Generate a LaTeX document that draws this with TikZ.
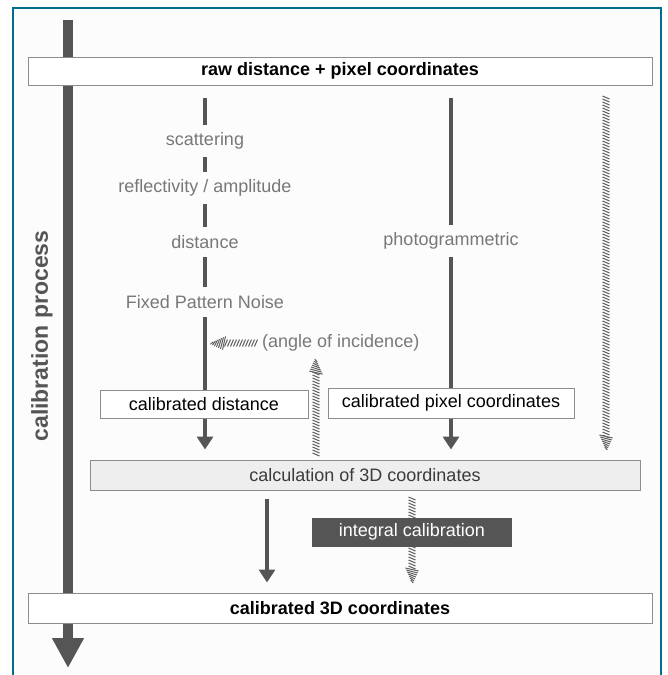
\documentclass[tikz,border=0pt]{standalone}
\usepackage{fontspec}
\setmainfont{Liberation Sans}
\usepackage{tikz}
\definecolor{frame}{RGB}{0,110,140}
\definecolor{paper}{RGB}{252,252,252}
\definecolor{darkline}{RGB}{85,85,85}
\definecolor{hatchgray}{RGB}{95,95,95}
\definecolor{labelgray}{RGB}{120,120,120}
\definecolor{calcgray}{RGB}{238,238,238}
\definecolor{boxline}{RGB}{140,140,140}
\usetikzlibrary{arrows.meta}
\usetikzlibrary{decorations.markings}
\pgfdeclarelayer{bglayer}
\pgfdeclarelayer{edgelayer}
\pgfdeclarelayer{nodelayer}
\pgfsetlayers{bglayer,edgelayer,nodelayer,main}
\tikzstyle{box}=[rectangle,fill=white,draw=boxline,line width=1pt,minimum height=28pt,inner sep=0pt,font=\fontsize{18}{20}\selectfont]
\tikzstyle{steplabel}=[fill=paper,text=labelgray,inner xsep=2pt,inner ysep=8pt,font=\fontsize{18}{20}\selectfont]
\tikzstyle{flow}=[darkline,line width=4pt,-{Triangle[length=13pt,width=16pt]}]
\tikzstyle{hatch}=[postaction={decorate},decoration={markings,
    mark=between positions 0 and -13pt step 3pt with {\draw[hatchgray,line width=1pt] (-1.5pt,-3.5pt) -- (1.5pt,3.5pt);},
    mark=at position 1 with {\foreach \d in {1,3,...,13} {\draw[hatchgray,line width=1pt] ({-(\d+1.5)*1pt},{-(0.45*\d+0.8)*1pt}) -- ({-(\d-1.5)*1pt},{(0.45*\d+0.8)*1pt});}}}]

\begin{document}
\begin{tikzpicture}[x=1pt,y=-1pt]
        \useasboundingbox (0,0) rectangle (667,675);
        \begin{pgfonlayer}{bglayer}
            \fill [paper] (13,8) rectangle (661,675);
            \draw [frame, line width=2pt] (13,675) -- (13,8) -- (661,8) -- (661,675);
        \end{pgfonlayer}

        \begin{pgfonlayer}{nodelayer}
            \node [style = box, minimum width=624pt, font=\fontsize{18}{20}\selectfont\bfseries] (raw) at (340, 71) {raw distance + pixel coordinates};

            \node [style = steplabel] (scat) at (205, 141) {scattering};
            \node [style = steplabel] (refl) at (205, 188) {reflectivity / amplitude};
            \node [style = steplabel] (dist) at (205, 242) {distance};
            \node [style = steplabel] (fpn) at (205, 302) {Fixed Pattern Noise};
            \node [style = steplabel] (photo) at (451, 241) {photogrammetric};
            \node [style = steplabel, inner ysep=2pt, anchor=west] (angle) at (260, 343) {(angle of incidence)};

            \node [style = box, minimum width=208pt] (cdist) at (204, 404) {calibrated distance};
            \node [style = box, minimum width=246pt, minimum height=30pt] (cpix) at (451, 403) {calibrated pixel coordinates};

            \node [style = box, fill=calcgray, minimum width=550pt, minimum height=30pt, text=darkline!70!black] (calc) at (365, 475) {calculation of 3D coordinates};
            \node [style = box, fill=darkline, draw=darkline, text=white, minimum width=199pt] (integ) at (412, 532) {integral calibration};

            \node [style = box, minimum width=624pt, minimum height=30pt, font=\fontsize{18}{20}\selectfont\bfseries] (out) at (340, 608) {calibrated 3D coordinates};

            \node [rotate=90, text=darkline, font=\fontsize{23}{25}\selectfont\bfseries] (proc) at (42, 336) {calibration process};
        \end{pgfonlayer}

        \coordinate (timeline) at (68, 20);
        \coordinate (timeend) at (68, 668);
        \coordinate (hatchx) at (606, 0);
        \coordinate (upx) at (316, 0);
        \coordinate (downx) at (267, 0);

        \begin{pgfonlayer}{edgelayer}
            \draw [darkline, line width=10pt, -{Triangle[length=30pt,width=30pt]}] (timeline) -- (timeend);

            \draw [style = flow, shorten <=12pt, shorten >=10pt] (raw.south -| scat) to (calc.north -| scat);
            \draw [style = flow, shorten <=12pt, shorten >=10pt] (raw.south -| photo) to (calc.north -| photo);
            \path [style = hatch] ([yshift=-12pt]raw.south -| hatchx) to ([yshift=10pt]calc.north -| hatchx);

            \path [style = hatch] ([xshift=-4pt]angle.west) to ([xshift=6pt]angle.west -| fpn);
            \path [style = hatch] ([yshift=5pt]calc.north -| upx) to ([yshift=-6pt]angle.south -| upx);

            \draw [style = flow, shorten <=8pt, shorten >=10pt] (calc.south -| downx) to (out.north -| downx);
            \path [style = hatch] ([yshift=-8pt]calc.south -| integ) to ([yshift=10pt]out.north -| integ);
        \end{pgfonlayer}
    \end{tikzpicture}
\end{document}
